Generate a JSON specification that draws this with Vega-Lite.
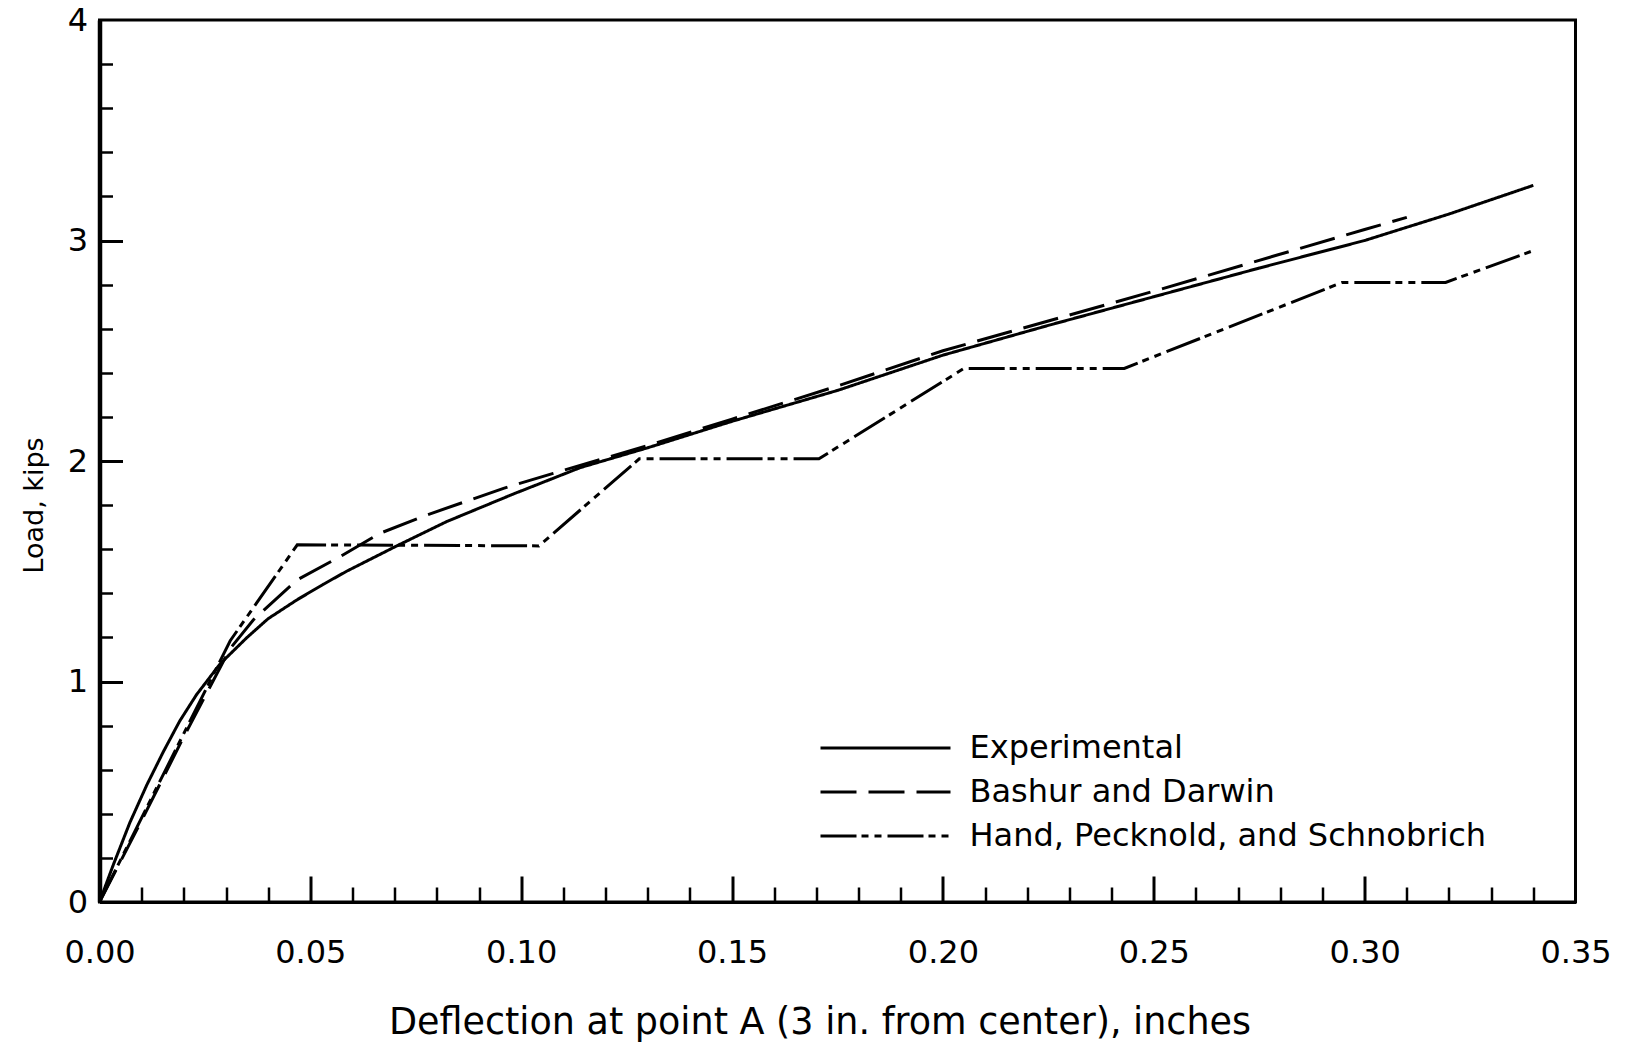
{
  "$schema": "https://vega.github.io/schema/vega-lite/v6.json",
  "width": 1476,
  "height": 882,
  "autosize": "none",
  "padding": {"left": 99.5, "top": 20, "right": 51.5, "bottom": 142},
  "background": "white",
  "config": {
    "view": {"stroke": "black", "strokeWidth": 3},
    "font": "DejaVu Sans",
    "axis": {"labelColor": "black", "titleColor": "black", "tickColor": "black", "domainColor": "black", "grid": false, "labelFlush": false, "labelOverlap": false}
  },
  "data": {
    "values": [
      {"series": "Experimental", "x": 0, "y": 0},
      {"series": "Experimental", "x": 0.0033, "y": 0.17},
      {"series": "Experimental", "x": 0.0072, "y": 0.36},
      {"series": "Experimental", "x": 0.0112, "y": 0.53},
      {"series": "Experimental", "x": 0.0151, "y": 0.68},
      {"series": "Experimental", "x": 0.019, "y": 0.82},
      {"series": "Experimental", "x": 0.023, "y": 0.94},
      {"series": "Experimental", "x": 0.0286, "y": 1.08},
      {"series": "Experimental", "x": 0.035, "y": 1.2},
      {"series": "Experimental", "x": 0.04, "y": 1.285},
      {"series": "Experimental", "x": 0.0468, "y": 1.37},
      {"series": "Experimental", "x": 0.053, "y": 1.44},
      {"series": "Experimental", "x": 0.0586, "y": 1.5},
      {"series": "Experimental", "x": 0.0705, "y": 1.615},
      {"series": "Experimental", "x": 0.0823, "y": 1.725},
      {"series": "Experimental", "x": 0.0981, "y": 1.85},
      {"series": "Experimental", "x": 0.114, "y": 1.97},
      {"series": "Experimental", "x": 0.13, "y": 2.06},
      {"series": "Experimental", "x": 0.15, "y": 2.18},
      {"series": "Experimental", "x": 0.175, "y": 2.32},
      {"series": "Experimental", "x": 0.2, "y": 2.48},
      {"series": "Experimental", "x": 0.225, "y": 2.615},
      {"series": "Experimental", "x": 0.25, "y": 2.745},
      {"series": "Experimental", "x": 0.275, "y": 2.875},
      {"series": "Experimental", "x": 0.3, "y": 3.0},
      {"series": "Experimental", "x": 0.32, "y": 3.12},
      {"series": "Experimental", "x": 0.34, "y": 3.25},
      {"series": "Bashur and Darwin", "x": 0, "y": 0},
      {"series": "Bashur and Darwin", "x": 0.01, "y": 0.37},
      {"series": "Bashur and Darwin", "x": 0.02, "y": 0.75},
      {"series": "Bashur and Darwin", "x": 0.031, "y": 1.15},
      {"series": "Bashur and Darwin", "x": 0.0365, "y": 1.28},
      {"series": "Bashur and Darwin", "x": 0.0468, "y": 1.46},
      {"series": "Bashur and Darwin", "x": 0.057, "y": 1.566},
      {"series": "Bashur and Darwin", "x": 0.0665, "y": 1.672},
      {"series": "Bashur and Darwin", "x": 0.0776, "y": 1.755},
      {"series": "Bashur and Darwin", "x": 0.0958, "y": 1.876},
      {"series": "Bashur and Darwin", "x": 0.1076, "y": 1.944},
      {"series": "Bashur and Darwin", "x": 0.13, "y": 2.07},
      {"series": "Bashur and Darwin", "x": 0.15, "y": 2.19},
      {"series": "Bashur and Darwin", "x": 0.175, "y": 2.34},
      {"series": "Bashur and Darwin", "x": 0.2, "y": 2.5},
      {"series": "Bashur and Darwin", "x": 0.25, "y": 2.77},
      {"series": "Bashur and Darwin", "x": 0.3, "y": 3.05},
      {"series": "Bashur and Darwin", "x": 0.31, "y": 3.105},
      {"series": "Hand, Pecknold, and Schnobrich", "x": 0, "y": 0},
      {"series": "Hand, Pecknold, and Schnobrich", "x": 0.031, "y": 1.185},
      {"series": "Hand, Pecknold, and Schnobrich", "x": 0.0469, "y": 1.62},
      {"series": "Hand, Pecknold, and Schnobrich", "x": 0.1042, "y": 1.615},
      {"series": "Hand, Pecknold, and Schnobrich", "x": 0.128, "y": 2.01},
      {"series": "Hand, Pecknold, and Schnobrich", "x": 0.1706, "y": 2.01},
      {"series": "Hand, Pecknold, and Schnobrich", "x": 0.205, "y": 2.42},
      {"series": "Hand, Pecknold, and Schnobrich", "x": 0.243, "y": 2.42},
      {"series": "Hand, Pecknold, and Schnobrich", "x": 0.2947, "y": 2.81},
      {"series": "Hand, Pecknold, and Schnobrich", "x": 0.3192, "y": 2.81},
      {"series": "Hand, Pecknold, and Schnobrich", "x": 0.3394, "y": 2.95}
    ]
  },
  "resolve": {"axis": {"x": "independent", "y": "independent"}},
  "layer": [
    {
      "mark": {"type": "line", "color": "black", "strokeWidth": 3, "strokeCap": "butt"},
      "encoding": {
        "x": {
          "field": "x", "type": "quantitative",
          "scale": {"domain": [0, 0.35], "nice": false, "zero": false},
          "axis": {
            "orient": "bottom",
            "values": [0, 0.05, 0.1, 0.15, 0.2, 0.25, 0.3, 0.35],
            "format": ".2f",
            "ticks": false,
            "domain": true,
            "domainWidth": 3,
            "labelFontSize": 32,
            "labelPadding": 35,
            "title": "Deflection at point A (3 in. from center), inches",
            "titleFontSize": 36.5,
            "titleFontWeight": "normal",
            "titlePadding": 36,
            "titleX": 720
          }
        },
        "y": {
          "field": "y", "type": "quantitative",
          "scale": {"domain": [0, 4], "nice": false, "zero": false},
          "axis": {
            "orient": "left",
            "values": [0, 1, 2, 3, 4],
            "format": "d",
            "ticks": false,
            "domain": true,
            "domainWidth": 4.5,
            "labelFontSize": 32,
            "labelPadding": 12,
            "title": "Load, kips",
            "titleFontSize": 27,
            "titleFontWeight": "normal",
            "titlePadding": 19,
            "titleY": 485
          }
        },
        "strokeDash": {
          "field": "series", "type": "nominal",
          "scale": {
            "domain": ["Experimental", "Bashur and Darwin", "Hand, Pecknold, and Schnobrich"],
            "range": [[1, 0], [36, 12], [36, 5, 7, 6, 7, 6]]
          },
          "legend": {
            "title": null,
            "orient": "none",
            "legendX": 770,
            "legendY": 712,
            "symbolType": "M-5,0H5",
            "symbolSize": 676,
            "symbolStrokeWidth": 3,
            "symbolStrokeColor": "black",
            "labelFontSize": 32,
            "labelColor": "black",
            "labelLimit": 0,
            "labelOffset": 68,
            "rowPadding": 12
          }
        }
      }
    },
    {
      "mark": {"type": "point", "opacity": 0},
      "encoding": {
        "x": {
          "field": "x", "type": "quantitative",
          "scale": {"domain": [0, 0.35], "nice": false, "zero": false},
          "axis": {"orient": "bottom", "values": [0.05, 0.1, 0.15, 0.2, 0.25, 0.3], "labels": false, "domain": false, "ticks": true, "tickSize": -26, "tickWidth": 3, "title": null}
        },
        "y": {
          "field": "y", "type": "quantitative",
          "scale": {"domain": [0, 4], "nice": false, "zero": false},
          "axis": {"orient": "left", "values": [1, 2, 3], "labels": false, "domain": false, "ticks": true, "tickSize": -23, "tickWidth": 3, "title": null}
        }
      }
    },
    {
      "mark": {"type": "point", "opacity": 0},
      "encoding": {
        "x": {
          "field": "x", "type": "quantitative",
          "scale": {"domain": [0, 0.35], "nice": false, "zero": false},
          "axis": {"orient": "bottom", "values": [0.01, 0.02, 0.03, 0.04, 0.06, 0.07, 0.08, 0.09, 0.11, 0.12, 0.13, 0.14, 0.16, 0.17, 0.18, 0.19, 0.21, 0.22, 0.23, 0.24, 0.26, 0.27, 0.28, 0.29, 0.31, 0.32, 0.33, 0.34], "labels": false, "domain": false, "ticks": true, "tickSize": -15, "tickWidth": 2.5, "title": null}
        },
        "y": {
          "field": "y", "type": "quantitative",
          "scale": {"domain": [0, 4], "nice": false, "zero": false},
          "axis": {"orient": "left", "values": [0.2, 0.4, 0.6, 0.8, 1.2, 1.4, 1.6, 1.8, 2.2, 2.4, 2.6, 2.8, 3.2, 3.4, 3.6, 3.8], "labels": false, "domain": false, "ticks": true, "tickSize": -13, "tickWidth": 2.5, "title": null}
        }
      }
    }
  ]
}
